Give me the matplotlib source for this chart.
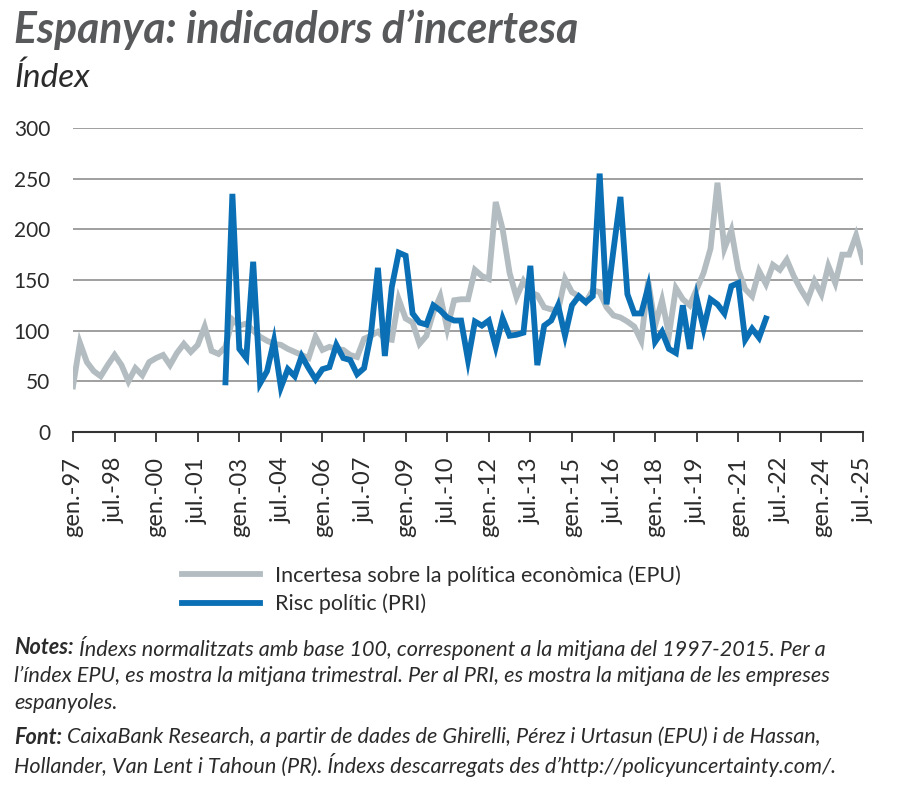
import matplotlib.pyplot as plt

# quarterly index, gen-97 .. jul-25 (q = 0..114)
epu = [45, 88, 69, 60, 55, 66, 76, 66, 50, 63,
       56, 69, 73, 76, 66, 78, 87, 79, 86, 104,
       80, 77, 84, 111, 105, 107, 100, 94, 90, 87,
       86, 82, 79, 76, 73, 94, 81, 84, 82, 81,
       76, 74, 92, 95, 99, 92, 91, 131, 112, 108,
       87, 95, 118, 134, 102, 130, 131, 131, 160, 154,
       151, 227, 200, 157, 133, 149, 138, 135, 123, 121,
       120, 151, 138, 134, 128, 140, 138, 123, 115, 113,
       109, 104, 90, 149, 105, 130, 96, 142, 131, 125,
       141, 157, 181, 246, 181, 199, 160, 141, 134, 159,
       146, 165, 160, 170, 154, 141, 130, 149, 136, 164,
       147, 175, 175, 194, 168]

# PRI starts at q = 22 and stops at q = 100
pri_start = 22
pri = [49, 235, 82, 73, 168, 48, 60, 90, 44, 62,
       55, 75, 63, 52, 62, 64, 86, 73, 71, 57,
       63, 97, 162, 75, 143, 177, 174, 117, 108, 106,
       125, 120, 113, 110, 110, 71, 109, 105, 110, 84,
       112, 95, 96, 98, 164, 66, 105, 110, 125, 95,
       125, 134, 128, 134, 255, 126, 180, 232, 136, 117,
       117, 143, 89, 99, 82, 78, 125, 82, 132, 102,
       131, 126, 117, 144, 147, 91, 102, 93, 112]

tick_labels = ["gen.-97", "jul.-98", "gen.-00", "jul.-01", "gen.-03", "jul.-04",
               "gen.-06", "jul.-07", "gen.-09", "jul.-10", "gen.-12", "jul.-13",
               "gen.-15", "jul.-16", "gen.-18", "jul.-19", "gen.-21", "jul.-22",
               "gen.-24", "jul.-25"]

plt.rcParams["font.family"] = ["Lato", "DejaVu Sans"]

GRAY = "#b3bdc1"
BLUE = "#0a6fb4"
TXT = "#2b2b2b"

W, H = 900, 789
fig = plt.figure(figsize=(W / 100, H / 100), dpi=100)
ax = fig.add_axes([73 / W, 1 - 432 / H, 790 / W, 304 / H])

x_epu = list(range(len(epu)))
x_pri = list(range(pri_start, pri_start + len(pri)))
ax.plot(x_epu, epu, color=GRAY, lw=4.2, solid_joinstyle="miter", label="Incertesa sobre la política econòmica (EPU)", zorder=3)
ax.plot(x_pri, pri, color=BLUE, lw=4.2, solid_joinstyle="miter", label="Risc polític (PRI)", zorder=4)

ax.set_xlim(0, 114)
ax.set_ylim(0, 300)
ax.set_yticks(range(0, 301, 50))
ax.set_yticklabels([str(v) for v in range(0, 301, 50)], fontsize=15, color=TXT)
ax.tick_params(axis="y", length=0, pad=16.5)
for v in range(50, 301, 50):
    ax.axhline(v, color="#8f8f8f", lw=1.2, zorder=1)

ax.set_xticks(range(0, 115, 6))
ax.set_xticklabels(tick_labels, rotation=90, fontsize=17, color=TXT)
ax.tick_params(axis="x", length=7, width=1.3, color="#333333", pad=11)

for s in ["top", "right", "left"]:
    ax.spines[s].set_visible(False)
ax.spines["bottom"].set_color("#333333")
ax.spines["bottom"].set_linewidth(1.5)

leg = fig.legend(loc="upper left", bbox_to_anchor=(163 / W, 1 - 546 / H), frameon=False,
                 fontsize=15.5, handlelength=3.6, labelspacing=0.35, handletextpad=0.7)
for t in leg.get_texts():
    t.set_color(TXT)

fig.text(14 / W, 1 - 30 / H, "Espanya: indicadors d\u2019incertesa", fontsize=30.7, fontweight="bold",
         style="italic", color="#58595b", va="center")
fig.text(14 / W, 1 - 78 / H, "Índex", fontsize=24, style="italic", color=TXT, va="center")

notes = [
    (648, "Notes:", " Índexs normalitzats amb base 100, corresponent a la mitjana del 1997-2015. Per a"),
    (676, "", "l\u2019índex EPU, es mostra la mitjana trimestral. Per al PRI, es mostra la mitjana de les empreses"),
    (703, "", "espanyoles."),
    (737, "Font:", " CaixaBank Research, a partir de dades de Ghirelli, Pérez i Urtasun (EPU) i de Hassan,"),
    (765, "", "Hollander, Van Lent i Tahoun (PR). Índexs descarregats des d\u2019http://policyuncertainty.com/."),
]
renderer = fig.canvas.get_renderer()
for y, bold, rest in notes:
    x = 14 / W
    if bold:
        tb = fig.text(x, 1 - y / H, bold, fontsize=15.6, fontweight="bold", style="italic", color=TXT, va="center")
        bb = tb.get_window_extent(renderer)
        x = bb.x1 / W
    fig.text(x, 1 - y / H, rest, fontsize=15.6, style="italic", color=TXT, va="center")

fig.savefig("out.png", dpi=100)
